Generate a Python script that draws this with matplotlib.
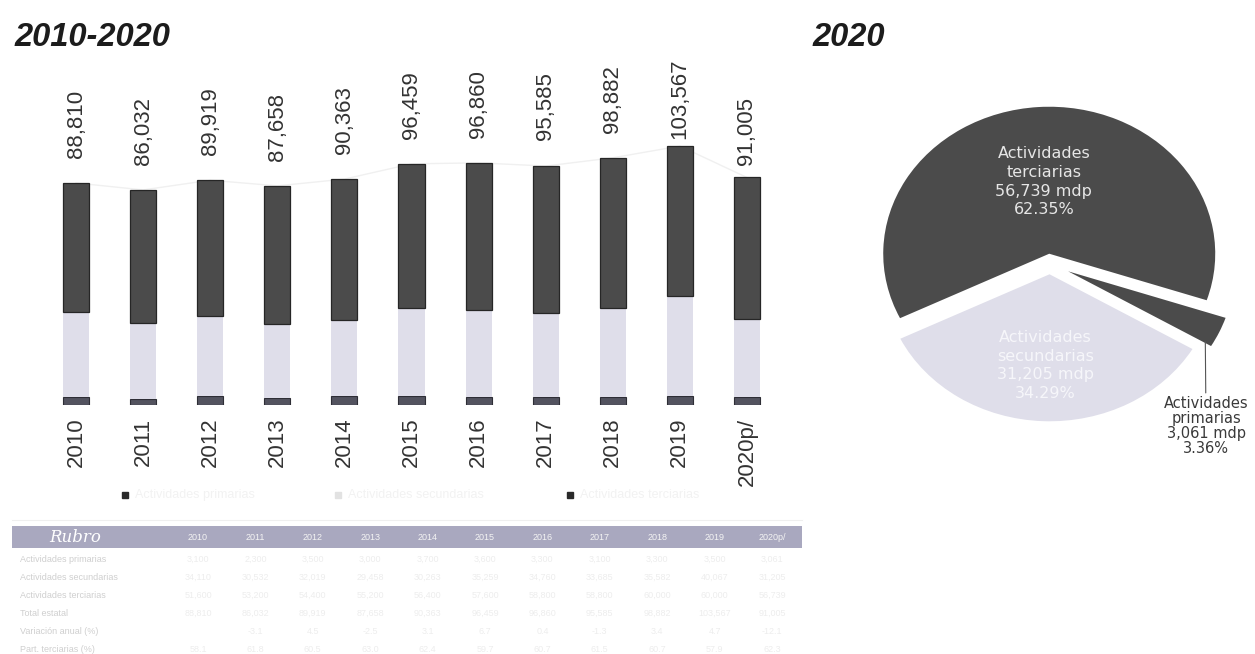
import numpy as np
import matplotlib
matplotlib.use("Agg")
import matplotlib.pyplot as plt
from matplotlib.patches import Rectangle

# PIB estatal por gran actividad, millones de pesos
anios = ["2010", "2011", "2012", "2013", "2014", "2015", "2016", "2017", "2018", "2019", "2020p/"]
primarias = [3100, 2300, 3500, 3000, 3700, 3600, 3300, 3100, 3300, 3500, 3061]
secundarias = [34110, 30532, 32019, 29458, 30263, 35259, 34760, 33685, 35582, 40067, 31205]
terciarias = [51600, 53200, 54400, 55200, 56400, 57600, 58800, 58800, 60000, 60000, 56739]
totales = [88810, 86032, 89919, 87658, 90363, 96459, 96860, 95585, 98882, 103567, 91005]

# pastel 2020
pie_nombres = ["Actividades\nsecundarias", "Actividades\nprimarias", "Actividades\nterciarias"]
pie_valores = [31205, 3061, 56739]

rubros = ["Actividades primarias", "Actividades secundarias", "Actividades terciarias",
          "Total estatal", "Variación anual (%)", "Part. terciarias (%)"]

# CONST BLOCK
W, H = 1255, 654
C_TER = "#4b4b4b"
C_SEC = "#dfdeea"
C_PRI = "#53535f"
C_TXT = "#333333"


def px_box(x0, y0, x1, y1):
    # pixel box (top-left origin) -> figure fraction
    return [x0 / W, 1 - y1 / H, (x1 - x0) / W, (y1 - y0) / H]


plt.rcParams["font.family"] = ["Liberation Sans", "DejaVu Sans"]
fig = plt.figure(figsize=(W / 100, H / 100), dpi=100)
fig.patch.set_facecolor("white")

# ---- barras apiladas 2010-2020
ax = fig.add_axes(px_box(42.5, 60, 780.5, 405))
x = np.arange(len(anios))
prim = np.array(primarias)
sec = np.array(secundarias)
ter = np.array(terciarias)
bw = 0.39
ax.plot(x, totales, color="#f0f0f0", lw=1.0, zorder=0)
ax.bar(x, prim, bw, color=C_PRI, edgecolor="#2e2e36", lw=0.8, zorder=2)
ax.bar(x, sec, bw, bottom=prim, color=C_SEC, edgecolor="none", zorder=2)
ax.bar(x, ter, bw, bottom=prim + sec, color=C_TER, edgecolor="#262626", lw=0.9, zorder=2)

gaps_px = [25, 25, 25, 25, 25, 25, 25, 26, 25, 7, 12]
for i, v in enumerate(totales):
    ax.annotate(f"{v:,}", (i, v), xytext=(0, gaps_px[i] * 0.72), textcoords="offset points",
                rotation=90, ha="center", va="bottom", fontsize=16, color=C_TXT)

ax.set_xlim(-0.5, len(anios) - 0.5)
ax.set_ylim(0, 138000)
ax.set_xticks(x)
ax.set_xticklabels(anios, rotation=90, fontsize=16, color=C_TXT)
ax.tick_params(axis="x", length=0, pad=9.0)
ax.set_yticks([])
for s in ax.spines.values():
    s.set_visible(False)
ax.patch.set_visible(False)

# ---- titulos
fig.text(15 / W, 1 - 46 / H, "2010-2020", fontsize=23.5, fontweight="bold",
         style="italic", color="#1c1c1c", va="baseline")
fig.text(813 / W, 1 - 46 / H, "2020", fontsize=23.5, fontweight="bold",
         style="italic", color="#1c1c1c", va="baseline")

# ---- pastel 2020
cx, cy, rx, ry = 1050, 264, 166, 147
xl, yl = (-1.3, 1.25), (-1.35, 1.6)
pax = fig.add_axes(px_box(cx + xl[0] * rx, cy - yl[1] * ry, cx + xl[1] * rx, cy - yl[0] * ry))
explode = [0.07, 0.12, 0.07]
wedges, _ = pax.pie(pie_valores, colors=[C_SEC, C_TER, C_TER], startangle=206,
                    counterclock=True, explode=explode,
                    wedgeprops=dict(edgecolor="none"))
pax.set_aspect("auto")
pax.set_xlim(*xl)
pax.set_ylim(*yl)
pax.axis("off")

total20 = sum(pie_valores)
etiquetas = [f"{n}\n{v:,} mdp\n{v / total20 * 100:.2f}%" for n, v in zip(pie_nombres, pie_valores)]

dist = {0: 0.62, 2: 0.49}
colores_txt = {0: "#f6f6fa", 2: "#e6e6e6"}
for i in (0, 2):
    w = wedges[i]
    a = np.deg2rad((w.theta1 + w.theta2) / 2)
    r = dist[i] + explode[i]
    pax.text(r * np.cos(a), r * np.sin(a), etiquetas[i], ha="center", va="center",
             fontsize=11.5, family="DejaVu Sans", color=colores_txt[i], linespacing=1.3)

w = wedges[1]
a_mid = np.deg2rad((w.theta1 + w.theta2) / 2)
a_low = np.deg2rad(w.theta1 + 1)
xy = (0.95 * np.cos(a_low) + explode[1] * np.cos(a_mid),
      0.95 * np.sin(a_low) + explode[1] * np.sin(a_mid))
pax.annotate(etiquetas[1], xy=xy, xytext=(0.94, -1.1), ha="center", va="center",
             fontsize=10.5, family="DejaVu Sans", color="#3a3a3a", linespacing=1.0,
             annotation_clip=False,
             arrowprops=dict(arrowstyle="-", color="#555555", lw=0.8, shrinkA=0, shrinkB=1))

# ---- capa en pixeles: leyenda deslavada y tabla
ov = fig.add_axes([0, 0, 1, 1])
ov.set_xlim(0, W)
ov.set_ylim(H, 0)
ov.axis("off")
ov.patch.set_visible(False)

leyenda = [("Actividades primarias", "#2a2a2a", 125),
           ("Actividades secundarias", "#e2e2e2", 338),
           ("Actividades terciarias", "#2a2a2a", 570)]
for txt, col, lx in leyenda:
    ov.add_patch(Rectangle((lx - 3, 492), 6, 6, color=col))
    ov.text(lx + 10, 495, txt, fontsize=9, color="#f2f2f2", va="center")

ov.plot([12, 802], [520, 520], color="#efefef", lw=0.8)
ov.add_patch(Rectangle((12, 526), 790, 22, color="#a9a8bf", lw=0))
ov.text(75, 537, "Rubro", fontsize=12, color="white", ha="center", va="center",
        family="DejaVu Serif", style="italic")
col_x = [198 + k * 57.4 for k in range(len(anios))]
for k, a in enumerate(anios):
    ov.text(col_x[k], 537, a, fontsize=6.5, color="#f4f4f4", ha="center", va="center")

var = [""] + [f"{(totales[k] / totales[k - 1] - 1) * 100:.1f}" for k in range(1, len(totales))]
part = [f"{t / s * 100:.1f}" for t, s in zip(terciarias, totales)]
filas = [[f"{v:,}" for v in primarias], [f"{v:,}" for v in secundarias],
         [f"{v:,}" for v in terciarias], [f"{v:,}" for v in totales], var, part]
for j, (rub, fila) in enumerate(zip(rubros, filas)):
    yy = 559 + j * 18
    ov.text(20, yy, rub, fontsize=6.5, color="#cfcfcf", va="center")
    for k, val in enumerate(fila):
        ov.text(col_x[k], yy, val, fontsize=6.5, color="#ededed", ha="center", va="center")

fig.savefig("out.png", dpi=100, facecolor="white")
plt.close("all")
